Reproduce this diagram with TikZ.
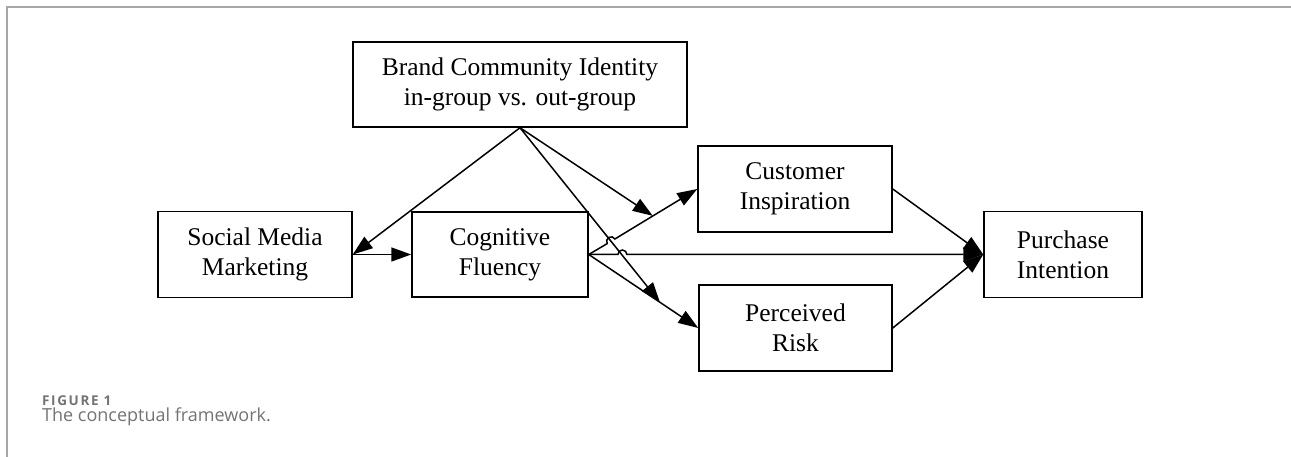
\documentclass[tikz,border=0pt]{standalone}
\usepackage{fontspec}
\setmainfont{Liberation Serif}
\newfontfamily\capfont{Open Sans}
\newfontfamily\capfontsp[LetterSpace=12]{Open Sans}
\usetikzlibrary{arrows.meta,calc}
\definecolor{capgray}{HTML}{737373}
\definecolor{framegray}{HTML}{A6A6A6}
\begin{document}
\begin{tikzpicture}[x=1pt,y=-1pt,
  box/.style={draw,line width=1.5pt,inner sep=0pt,align=center,font=\fontsize{25.5}{30}\selectfont},
  arr/.style={line width=1.5pt,-{Triangle[length=20pt,width=14pt]}},
  captext/.style={anchor=base west,inner sep=0pt,text=capgray}]
\useasboundingbox (0,0) rectangle (1291,457);
\draw[framegray,line width=1.5pt] (7,457) -- (7,7) -- (1291,7);

\node[box,minimum width=334pt,minimum height=85pt] (bci) at (520,84.5) {Brand Community Identity\\in-group vs. out-group};
\node[box,minimum width=194pt,minimum height=86pt] (smm) at (255,254.5) {Social Media\\Marketing};
\node[box,minimum width=176pt,minimum height=85pt] (cf) at (500,254.5) {Cognitive\\Fluency};
\node[box,minimum width=194pt,minimum height=86pt] (ci) at (795,189) {Customer\\Inspiration};
\node[box,minimum width=193pt,minimum height=86pt] (pr) at (795.5,328) {Perceived\\Risk};
\node[box,minimum width=158pt,minimum height=86pt] (pi) at (1063,254.5) {Purchase\\Intention};

\coordinate (ciT) at ($(cf.east)!0.59!(ci.west)$);
\coordinate (prT) at ($(cf.east)!0.65!(pr.west)$);

\draw[arr] (bci.south) -- (smm.east);
\draw[arr] (smm.east) -- (cf.west);
\draw[arr] (bci.south) -- (ciT);
\draw[arr] (bci.south) -- (prT);
\draw[arr] (cf.east) -- (607.2,243.6) arc[start angle=149,end angle=329,radius=4.5] -- (ci.west);
\draw[arr] (cf.east) -- (617.9,254.5) arc[start angle=180,end angle=360,radius=4.5] -- (pi.west);
\draw[arr] (cf.east) -- (pr.west);
\draw[arr] (ci.east) -- (pi.west);
\draw[arr] (pr.east) -- (pi.west);

\node[captext,font=\capfontsp\bfseries\fontsize{13.5}{15}\selectfont] (fig) at (42,405) {FIGURE 1};
\node[captext,font=\capfont\fontsize{18}{21}\selectfont] (cap) at (42,421) {The conceptual framework.};
\end{tikzpicture}
\end{document}
